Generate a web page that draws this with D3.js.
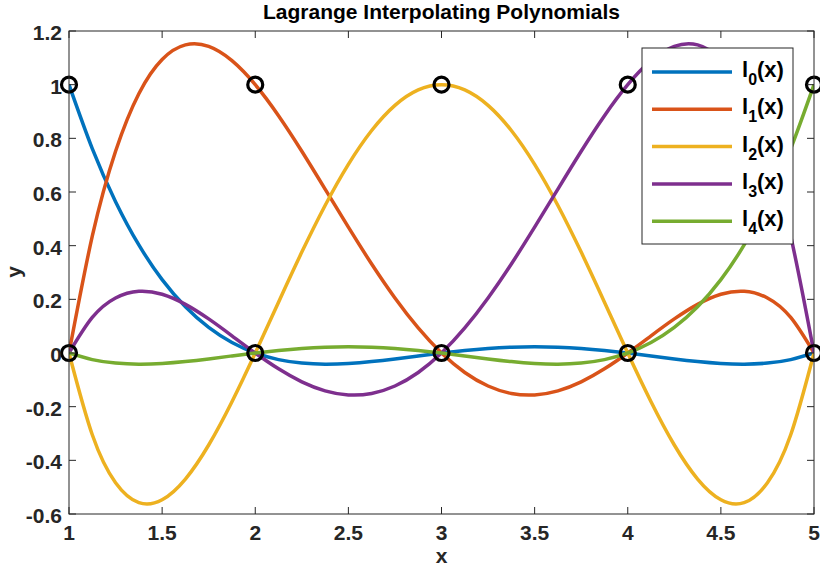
<!DOCTYPE html>
<html>
<head>
<meta charset="utf-8">
<script src="https://cdn.jsdelivr.net/npm/d3@7"></script>
<style>
  html, body { margin: 0; padding: 0; background: #fff; }
  svg { display: block; font-family: "Liberation Sans", Arial, Helvetica, sans-serif; font-weight: bold; }
</style>
</head>
<body>
<svg id="chart" width="820" height="572"></svg>
<script>
// Sample abscissae (step 0.125 on [1, 5])
const xs = [1, 1.125, 1.25, 1.375, 1.5, 1.625, 1.75, 1.875, 2, 2.125, 2.25, 2.375, 2.5, 2.625, 2.75, 2.875,
            3, 3.125, 3.25, 3.375, 3.5, 3.625, 3.75, 3.875, 4, 4.125, 4.25, 4.375, 4.5, 4.625, 4.75, 4.875, 5];

// Lagrange basis values at the sample abscissae
const l0 = [1, 0.7616, 0.5640, 0.4027, 0.2734, 0.1722, 0.0952, 0.0389, 0, -0.0246, -0.0376, -0.0417, -0.0391, -0.0319, -0.0220, -0.0109,
            0, 0.0096, 0.0171, 0.0218, 0.0234, 0.0218, 0.0171, 0.0096, 0, -0.0109, -0.0220, -0.0319, -0.0391, -0.0417, -0.0376, -0.0246, 0];
const l1 = [0, 0.4352, 0.7520, 0.9664, 1.0938, 1.1481, 1.1426, 1.0895, 1, 0.8844, 0.7520, 0.6110, 0.4688, 0.3317, 0.2051, 0.0934,
            0, -0.0726, -0.1230, -0.1508, -0.1563, -0.1410, -0.1074, -0.0590, 0, 0.0641, 0.1270, 0.1813, 0.2188, 0.2301, 0.2051, 0.1324, 0];
const l2 = [0, -0.3046, -0.4834, -0.5576, -0.5469, -0.4697, -0.3428, -0.1816, 0, 0.1895, 0.3760, 0.5499, 0.7031, 0.8292, 0.9229, 0.9805,
            1, 0.9805, 0.9229, 0.8292, 0.7031, 0.5499, 0.3760, 0.1895, 0, -0.1816, -0.3428, -0.4697, -0.5469, -0.5576, -0.4834, -0.3046, 0];
const l3 = [0, 0.1324, 0.2051, 0.2301, 0.2188, 0.1813, 0.1270, 0.0641, 0, -0.0590, -0.1074, -0.1410, -0.1563, -0.1508, -0.1230, -0.0726,
            0, 0.0934, 0.2051, 0.3317, 0.4688, 0.6110, 0.7520, 0.8844, 1, 1.0895, 1.1426, 1.1481, 1.0938, 0.9664, 0.7520, 0.4352, 0];
const l4 = [0, -0.0246, -0.0376, -0.0417, -0.0391, -0.0319, -0.0220, -0.0109, 0, 0.0096, 0.0171, 0.0218, 0.0234, 0.0218, 0.0171, 0.0096,
            0, -0.0109, -0.0220, -0.0319, -0.0391, -0.0417, -0.0376, -0.0246, 0, 0.0389, 0.0952, 0.1722, 0.2734, 0.4027, 0.5640, 0.7616, 1];

// Interpolation nodes and the node values (0 or 1) shown as circles
const nodeX = [1, 2, 3, 4, 5];
const nodeY = [0, 1];

const seriesNames = ["0", "1", "2", "3", "4"];
const seriesColors = ["#0072BD", "#D95319", "#EDB120", "#7E2F8E", "#77AC30"];
const seriesValues = [l0, l1, l2, l3, l4];

const xTicks = [1, 1.5, 2, 2.5, 3, 3.5, 4, 4.5, 5];
const yTicks = [-0.6, -0.4, -0.2, 0, 0.2, 0.4, 0.6, 0.8, 1, 1.2];

const titleText = "Lagrange Interpolating Polynomials";
const xLabel = "x";
const yLabel = "y";

const svg = d3.select("#chart");
const pLeft = 69, pRight = 814, pTop = 31, pBottom = 514;
const axisColor = "#262626";

const x = d3.scaleLinear().domain([1, 5]).range([pLeft, pRight]);
const y = d3.scaleLinear().domain([-0.6, 1.2]).range([pBottom, pTop]);

svg.append("defs").append("clipPath").attr("id", "plotclip")
  .append("rect").attr("x", pLeft).attr("y", pTop).attr("width", pRight - pLeft).attr("height", pBottom - pTop);

// Curves
const line = d3.line().x(d => x(d[0])).y(d => y(d[1])).curve(d3.curveNatural);
const curves = svg.append("g").attr("clip-path", "url(#plotclip)");
seriesValues.forEach((vals, i) => {
  curves.append("path")
    .datum(xs.map((xv, j) => [xv, vals[j]]))
    .attr("d", line)
    .attr("fill", "none")
    .attr("stroke", seriesColors[i])
    .attr("stroke-width", 3.5)
    .attr("stroke-linejoin", "round");
});

// Node markers
const nodes = [];
nodeX.forEach(nx => nodeY.forEach(ny => nodes.push([nx, ny])));
svg.append("g").selectAll("circle").data(nodes).join("circle")
  .attr("cx", d => x(d[0])).attr("cy", d => y(d[1])).attr("r", 7.5)
  .attr("fill", "none").attr("stroke", "#000").attr("stroke-width", 3.2);

// Axes box with inward ticks on all four sides
const tickLen = 7;
const axG = svg.append("g").attr("stroke", axisColor).attr("stroke-width", 1);
axG.append("rect").attr("x", pLeft).attr("y", pTop).attr("width", pRight - pLeft).attr("height", pBottom - pTop)
  .attr("fill", "none");
xTicks.forEach(t => {
  axG.append("line").attr("x1", x(t)).attr("x2", x(t)).attr("y1", pBottom).attr("y2", pBottom - tickLen);
  axG.append("line").attr("x1", x(t)).attr("x2", x(t)).attr("y1", pTop).attr("y2", pTop + tickLen);
});
yTicks.forEach(t => {
  axG.append("line").attr("x1", pLeft).attr("x2", pLeft + tickLen).attr("y1", y(t)).attr("y2", y(t));
  axG.append("line").attr("x1", pRight).attr("x2", pRight - tickLen).attr("y1", y(t)).attr("y2", y(t));
});

const fmt = d => String(+d.toFixed(2));
svg.append("g").selectAll("text").data(xTicks).join("text")
  .attr("x", d => x(d)).attr("y", 540)
  .attr("text-anchor", "middle").attr("font-size", 21).attr("fill", axisColor)
  .text(fmt);
svg.append("g").selectAll("text").data(yTicks).join("text")
  .attr("x", 62).attr("y", d => y(d) + 9)
  .attr("text-anchor", "end").attr("font-size", 21).attr("fill", axisColor)
  .text(fmt);

// Title and axis labels
svg.append("text").attr("x", (pLeft + pRight) / 2).attr("y", 19)
  .attr("text-anchor", "middle").attr("font-size", 21).attr("fill", "#000").text(titleText);
svg.append("text").attr("x", (pLeft + pRight) / 2).attr("y", 563)
  .attr("text-anchor", "middle").attr("font-size", 21).attr("fill", axisColor).text(xLabel);
svg.append("text").attr("transform", "translate(21,272) rotate(-90)")
  .attr("text-anchor", "middle").attr("font-size", 21).attr("fill", axisColor).text(yLabel);

// Legend
const lg = svg.append("g");
lg.append("rect").attr("x", 642).attr("y", 48).attr("width", 151).attr("height", 196)
  .attr("fill", "#fff").attr("stroke", axisColor).attr("stroke-width", 1);
seriesNames.forEach((name, i) => {
  const ry = 72 + i * 37.3;
  lg.append("line").attr("x1", 652).attr("x2", 732).attr("y1", ry).attr("y2", ry)
    .attr("stroke", seriesColors[i]).attr("stroke-width", 3.5);
  const t = lg.append("text").attr("x", 742).attr("y", ry + 5)
    .attr("font-size", 22).attr("fill", "#000");
  t.append("tspan").text("l");
  t.append("tspan").attr("font-size", 16).attr("dy", 8).text(name);
  t.append("tspan").attr("dy", -8).text("(x)");
});
</script>
</body>
</html>
